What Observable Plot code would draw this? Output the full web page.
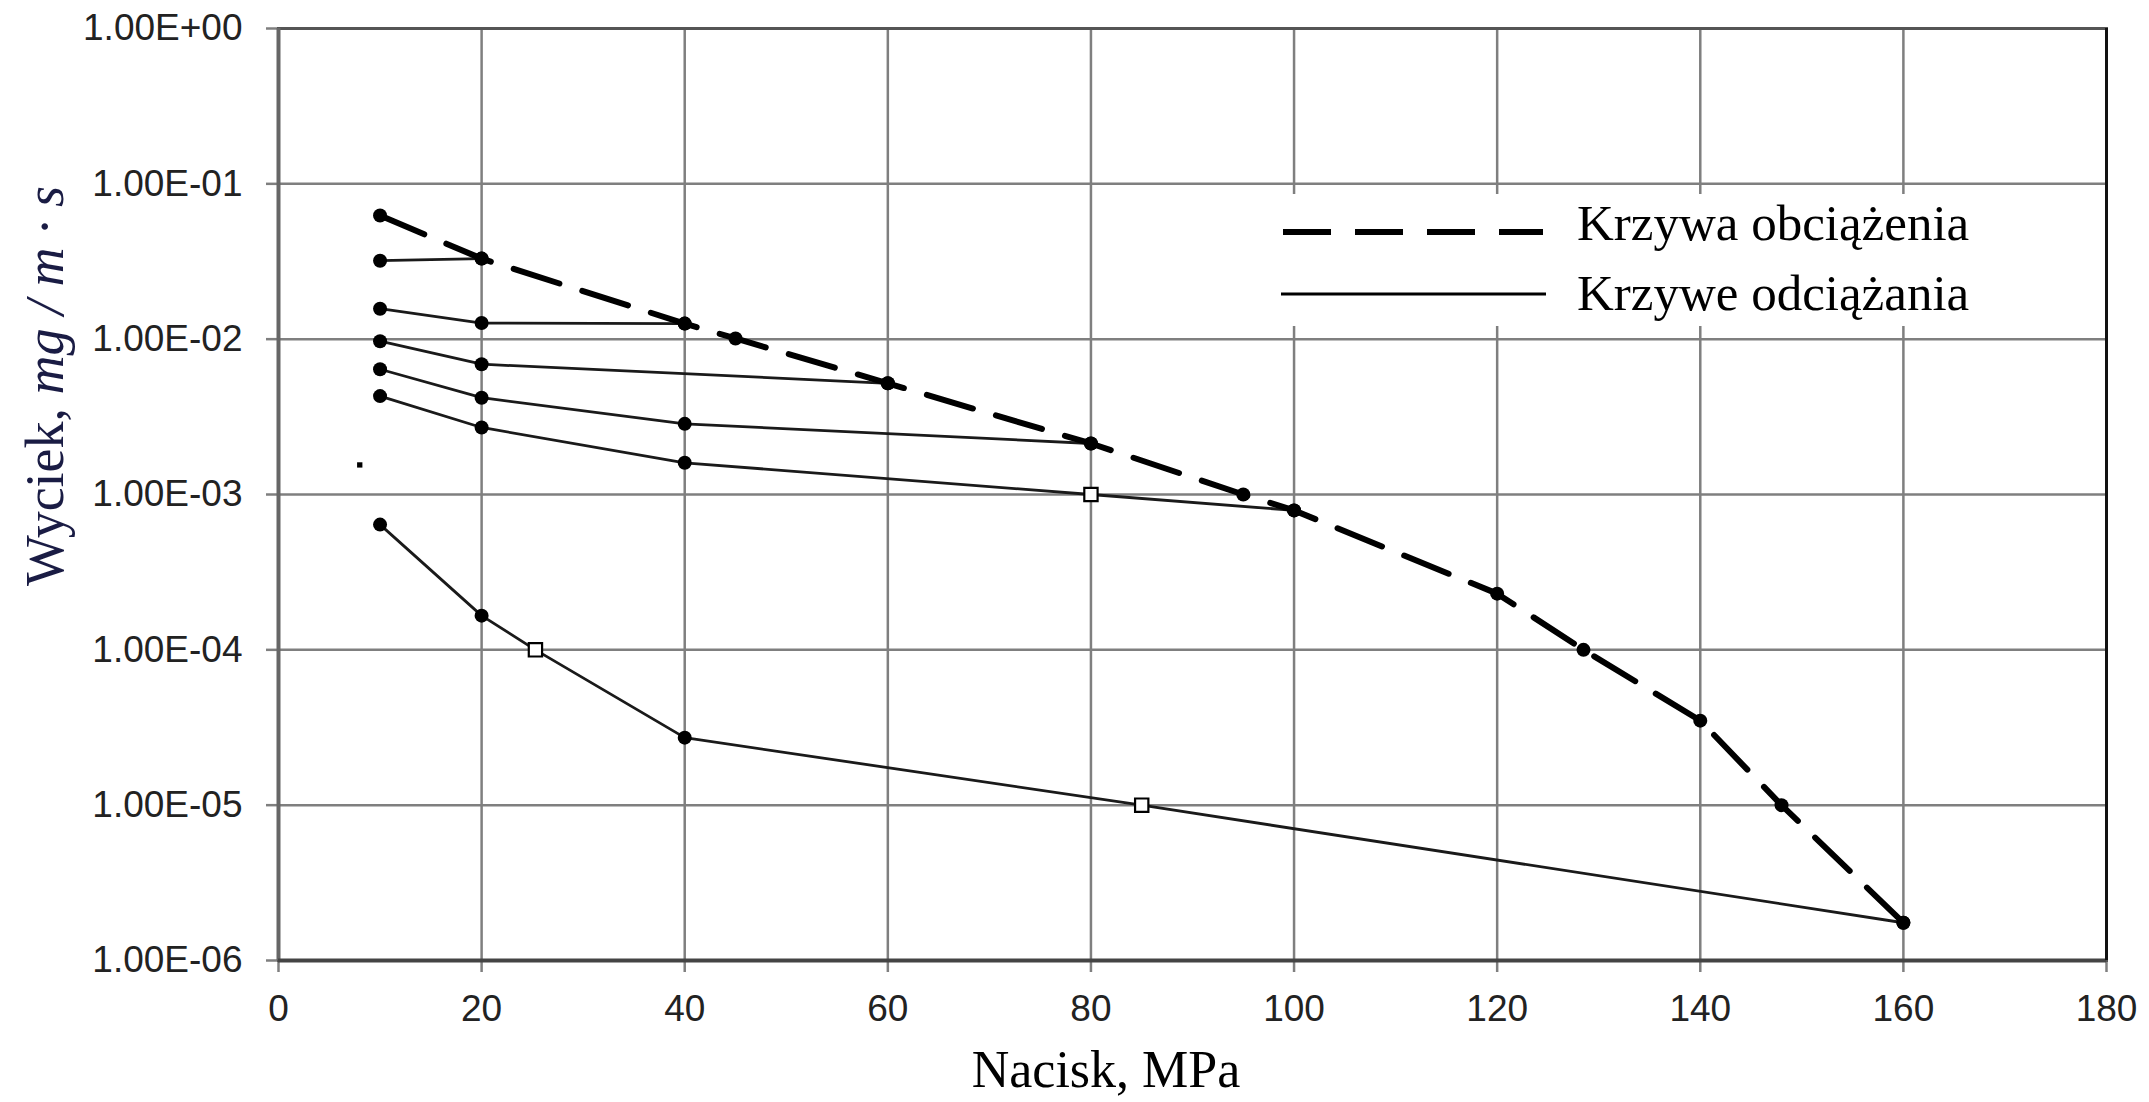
<!DOCTYPE html>
<html><head><meta charset="utf-8">
<script src="https://cdn.jsdelivr.net/npm/d3@7"></script>
<script src="https://cdn.jsdelivr.net/npm/@observablehq/plot@0.6"></script>
<style>
html,body{margin:0;padding:0;background:#fff;}
#chart{width:2149px;height:1102px;overflow:hidden;}
</style></head><body><div id="chart"></div>
<script>
// ---- data ----
const xTicks = [0, 20, 40, 60, 80, 100, 120, 140, 160, 180];
const yTicks = [1, 1e-1, 1e-2, 1e-3, 1e-4, 1e-5, 1e-6];

// loading curve (Krzywa obciążenia)
const loadX = [10, 20, 40, 45, 60, 80, 95, 100, 120, 128.5, 140, 148, 160];
const loadY = [0.0625, 0.033, 0.0126, 0.0101, 0.0052, 0.00213, 0.001, 0.00079, 0.00023, 0.0001, 0.000035, 0.00001, 0.00000175];

// unloading curves (Krzywe odciążania)
const u1X = [10, 20];                 const u1Y = [0.032, 0.033];
const u2X = [10, 20, 40];             const u2Y = [0.0157, 0.0127, 0.0126];
const u3X = [10, 20, 60];             const u3Y = [0.0097, 0.0069, 0.0052];
const u4X = [10, 20, 40, 80];         const u4Y = [0.0064, 0.0042, 0.00285, 0.00213];
const u5X = [10, 20, 40, 80, 100];    const u5Y = [0.0043, 0.0027, 0.0016, 0.001, 0.00079];
const u6X = [10, 20, 25.3, 40, 85, 160]; const u6Y = [0.00064, 0.000166, 0.0001, 0.0000272, 0.00001, 0.00000175];

// open (hollow) markers
const openX = [80, 25.3, 85];
const openY = [0.001, 0.0001, 0.00001];

// stray mark
const strayX = [8];
const strayY = [0.00155];

const legendLabels = ["Krzywa obciążenia", "Krzywe odciążania"];
const xTitle = "Nacisk, MPa";
const yTitleRoman = "Wyciek, ";
const yTitleItalic = "mg / m · s";

// ---- build tables ----
const loading = loadX.map((x, i) => ({x, y: loadY[i]}));
const uSeries = [[u1X, u1Y], [u2X, u2Y], [u3X, u3Y], [u4X, u4Y], [u5X, u5Y], [u6X, u6Y]];
const unloading = [];
uSeries.forEach(([xs, ys], s) => xs.forEach((x, i) => unloading.push({s, x, y: ys[i]})));
const isOpen = d => openX.some((ox, i) => ox === d.x && openY[i] === d.y);
const filled = loading.concat(unloading.filter(d => !isOpen(d)));
const open = openX.map((x, i) => ({x, y: openY[i]}));
const stray = strayX.map((x, i) => ({x, y: strayY[i]}));

const fmt = v => {
  const e = Math.round(Math.log10(v));
  return "1.00E" + (e >= 0 ? "+" : "-") + String(Math.abs(e)).padStart(2, "0");
};

const gridColor = "#7f7f7f";
const plot = Plot.plot({
  width: 2149,
  height: 1102,
  marginLeft: 278,
  marginRight: 43,
  marginTop: 28,
  marginBottom: 142,
  x: {domain: [0, 180]},
  y: {type: "log", domain: [1e-6, 1]},
  style: {fontFamily: "'Liberation Sans', Arial, sans-serif", fontSize: "37px", color: "#222", background: "#fff"},
  marks: [
    Plot.gridX(xTicks, {stroke: gridColor, strokeOpacity: 1, strokeWidth: 2.5}),
    Plot.gridY(yTicks, {stroke: gridColor, strokeOpacity: 1, strokeWidth: 2.5}),
    Plot.axisX(xTicks, {tickSize: 12, tickPadding: 22, stroke: gridColor, strokeWidth: 2.5, fill: "#222", label: null, fontSize: 37}),
    Plot.axisY(yTicks, {tickSize: 12, tickPadding: 24, tickFormat: fmt, stroke: gridColor, strokeWidth: 2.5, fill: "#222", label: null, fontSize: 37}),
    Plot.frame({stroke: "#555", strokeWidth: 3}),
    Plot.ruleX([0], {stroke: "#666", strokeWidth: 4}),
    Plot.ruleY([1e-6], {stroke: "#444", strokeWidth: 4}),
    Plot.ruleX([180], {stroke: "#111", strokeWidth: 3}),
    Plot.line(unloading, {x: "x", y: "y", z: "s", stroke: "#1a1a1a", strokeWidth: 2.8}),
    Plot.line(loading, {x: "x", y: "y", stroke: "#000", strokeWidth: 6, strokeDasharray: "48,24"}),
    Plot.dot(filled, {x: "x", y: "y", r: 7, fill: "#000"}),
    Plot.dot(open, {x: "x", y: "y", symbol: "square", r: 7.5, fill: "#fff", stroke: "#000", strokeWidth: 2.2}),
    Plot.dot(stray, {x: "x", y: "y", symbol: "square", r: 3, fill: "#000"})
  ]
});
document.getElementById("chart").appendChild(plot);

// ---- titles & legend ----
const svg = d3.select(plot);
const serif = "'Liberation Serif', 'Times New Roman', serif";

const lg = svg.append("g").attr("text-anchor", "start");
lg.append("rect").attr("x", 1265).attr("y", 194).attr("width", 795).attr("height", 132).attr("fill", "#fff");
lg.append("line").attr("x1", 1283).attr("x2", 1543).attr("y1", 232).attr("y2", 232)
  .attr("stroke", "#000").attr("stroke-width", 6).attr("stroke-dasharray", "48,24");
lg.append("line").attr("x1", 1281).attr("x2", 1546).attr("y1", 294).attr("y2", 294)
  .attr("stroke", "#000").attr("stroke-width", 3);
legendLabels.forEach((t, i) => {
  lg.append("text").attr("x", 1577).attr("y", i === 0 ? 240 : 310).attr("text-anchor", "start")
    .attr("font-family", serif).attr("font-size", 51).attr("fill", "#000").text(t);
});

svg.append("text").attr("x", 1106).attr("y", 1087).attr("text-anchor", "middle")
  .attr("font-family", serif).attr("font-size", 52).attr("fill", "#000").text(xTitle);

const yt = svg.append("text").attr("transform", "translate(63,386) rotate(-90)")
  .attr("text-anchor", "middle").attr("font-family", serif).attr("font-size", 54).attr("fill", "#1a1c44");
yt.append("tspan").text(yTitleRoman);
yt.append("tspan").attr("font-style", "italic").text(yTitleItalic);
</script>
</body></html>
